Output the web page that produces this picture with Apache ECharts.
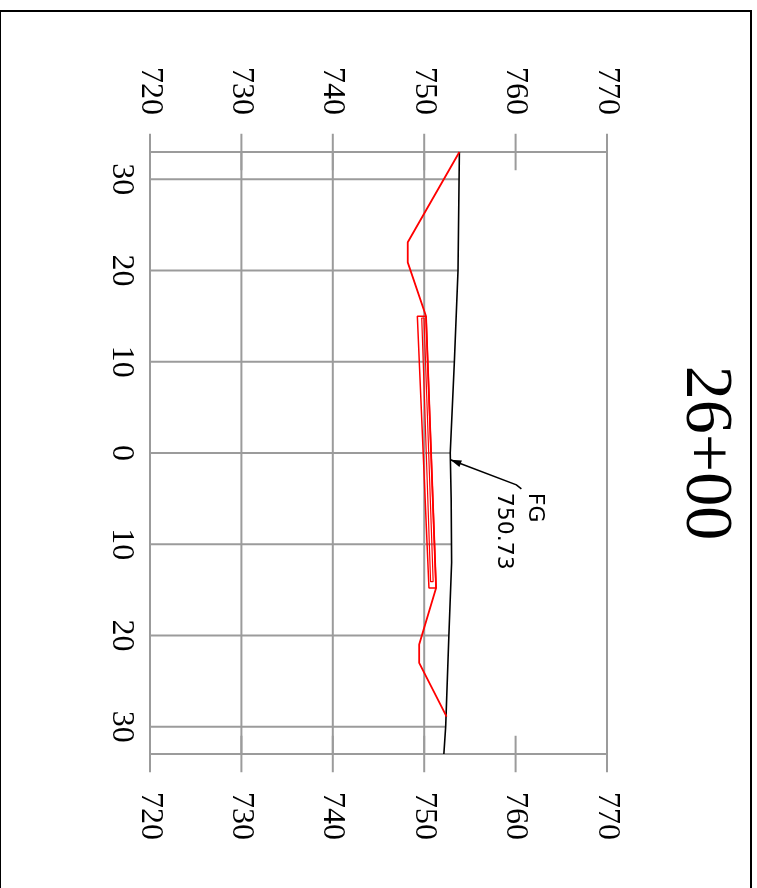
<!DOCTYPE html>
<html><head><meta charset="utf-8">
<script src="https://cdn.jsdelivr.net/npm/echarts@6/dist/echarts.min.js"></script>
<style>html,body{margin:0;padding:0;background:#fff}#c{width:757px;height:888px}</style>
</head><body><div id="c"></div>
<script>
// ---- data ----
const titleText = '26+00';
const elevTicks = [720, 730, 740, 750, 760, 770];
const offsetTicks = [-30, -20, -10, 0, 10, 20, 30];
const offsetRange = [-33, 33];
const groundOffset = [-33, -20, -10, 0, 5, 12, 20, 30, 33];
const groundElev   = [753.85, 753.7, 753.3, 752.85, 752.95, 753.0, 752.7, 752.35, 752.15];
const designOffset = [-33, -23.1, -20.9, -15.0, 14.8, 21.0, 23.0, 28.9];
const designElev   = [753.85, 748.2, 748.2, 750.2, 751.3, 749.45, 749.45, 752.45];
const pavOuterOffset = [-15.0, -15.0, 14.8, 14.8, -15.0];
const pavOuterElev   = [750.2, 749.25, 750.52, 751.3, 750.2];
const pavInnerOffset = [-14.8, -14.8, 14.1, 14.1, -14.8];
const pavInnerElev   = [749.98, 749.73, 750.70, 750.98, 749.98];
const fgLabel = 'FG';
const fgValue = '750.73';
const fgOffset = 0.75;

// ---- helpers ----
function groundAt(o) {
  for (let i = 0; i < groundOffset.length - 1; i++) {
    const a = groundOffset[i], b = groundOffset[i + 1];
    if (o >= a && o <= b) {
      const t = (o - a) / (b - a);
      return groundElev[i] + t * (groundElev[i + 1] - groundElev[i]);
    }
  }
  return o < groundOffset[0] ? groundElev[0] : groundElev[groundElev.length - 1];
}
const pairs = (offs, elevs) => offs.map((o, i) => [elevs[i], o]);
const eMin = elevTicks[0], eMax = elevTicks[elevTicks.length - 1];
const gMin = Math.min(...groundElev);
const GRID = '#9b9b9b';

const chart = echarts.init(document.getElementById('c'), null, {renderer: 'canvas'});

function seg(p1, p2, style) {
  return {type: 'line', shape: {x1: p1[0], y1: p1[1], x2: p2[0], y2: p2[1]}, style: style};
}

const labelFont = {fontFamily: 'Liberation Serif', fontSize: 32, color: '#000'};

const option = {
  animation: false,
  backgroundColor: '#fff',
  grid: {left: 150, right: 150, top: 152, bottom: 134},
  xAxis: [
    {type: 'value', position: 'top', min: eMin, max: eMax, interval: 10,
     axisLine: {show: false}, axisTick: {show: false}, splitLine: {show: false},
     axisLabel: Object.assign({rotate: -90, margin: 37}, labelFont)},
    {type: 'value', position: 'bottom', min: eMin, max: eMax, interval: 10,
     axisLine: {show: false}, axisTick: {show: false}, splitLine: {show: false},
     axisLabel: Object.assign({rotate: -90, margin: 38}, labelFont)}
  ],
  yAxis: {type: 'value', inverse: true, min: offsetRange[0], max: offsetRange[1],
    axisLine: {show: false}, axisTick: {show: false}, splitLine: {show: false},
    axisLabel: Object.assign({customValues: offsetTicks, rotate: -90, margin: 13,
      formatter: v => String(Math.abs(v))}, labelFont)},
  graphic: [
    {type: 'rect', shape: {x: 0, y: 11, width: 751, height: 900},
     style: {fill: 'none', stroke: '#000', lineWidth: 2}, z: 0},
    {type: 'text', x: 705, y: 453, rotation: -Math.PI / 2,
     style: {text: titleText, font: '68px "Liberation Serif"', fill: '#000',
       textAlign: 'center', textVerticalAlign: 'middle'}}
  ],
  series: [
    {type: 'custom', coordinateSystem: 'cartesian2d', clip: false, z: 1,
     data: [[eMin, 0]], silent: true,
     renderItem: function (params, api) {
       const st = {stroke: GRID, lineWidth: 2};
       const ch = [];
       const ext = 2; // outside tick extent (offset units)
       elevTicks.forEach(e => {
         ch.push(seg(api.coord([e, offsetRange[0] - ext]), api.coord([e, offsetRange[0] + ext]), st));
         ch.push(seg(api.coord([e, offsetRange[1] - ext]), api.coord([e, offsetRange[1] + ext]), st));
         if (e <= gMin || e === eMin || e === eMax) {
           ch.push(seg(api.coord([e, offsetRange[0]]), api.coord([e, offsetRange[1]]), st));
         }
       });
       offsetRange.forEach(o => ch.push(seg(api.coord([eMin, o]), api.coord([eMax, o]), st)));
       offsetTicks.forEach(o => ch.push(seg(api.coord([eMin, o]), api.coord([groundAt(o), o]), st)));
       return {type: 'group', children: ch};
     }},
    {type: 'line', name: 'ground', data: pairs(groundOffset, groundElev), showSymbol: false,
     lineStyle: {color: '#000', width: 1.6}, z: 3, silent: true},
    {type: 'line', name: 'design', data: pairs(designOffset, designElev), showSymbol: false,
     lineStyle: {color: '#ff0000', width: 1.8}, z: 4, silent: true},
    {type: 'line', name: 'pavOuter', data: pairs(pavOuterOffset, pavOuterElev), showSymbol: false,
     lineStyle: {color: '#ff0000', width: 1.5}, z: 4, silent: true},
    {type: 'line', name: 'pavInner', data: pairs(pavInnerOffset, pavInnerElev), showSymbol: false,
     lineStyle: {color: '#ff0000', width: 1.2}, z: 4, silent: true},
    {type: 'custom', coordinateSystem: 'cartesian2d', clip: false, z: 5, silent: true,
     data: [[groundAt(fgOffset), fgOffset]],
     renderItem: function (params, api) {
       const tip = api.coord([api.value(0), api.value(1)]);
       const p1 = [tip[0] + 66, tip[1] + 25];
       const p2 = [tip[0] + 71, tip[1] + 29];
       const ang = Math.atan2(25, 66);
       const L = 11, W = 3.5;
       const bx = tip[0] + L * Math.cos(ang), by = tip[1] + L * Math.sin(ang);
       const nx = -Math.sin(ang) * W, ny = Math.cos(ang) * W;
       return {type: 'group', children: [
         {type: 'polyline', shape: {points: [tip, p1, p2]}, style: {stroke: '#000', lineWidth: 1.6, fill: null}},
         {type: 'polygon', shape: {points: [tip, [bx + nx, by + ny], [bx - nx, by - ny]]}, style: {fill: '#000'}},
         {type: 'text', x: tip[0] + 100, y: tip[1] + 33, rotation: -Math.PI / 2,
          style: {text: fgLabel + '\n' + fgValue, font: '22px "DejaVu Sans"', lineHeight: 31,
            fill: '#000', textAlign: 'left', textVerticalAlign: 'top'}}
       ]};
     }}
  ]
};
chart.setOption(option);
</script>
</body></html>
